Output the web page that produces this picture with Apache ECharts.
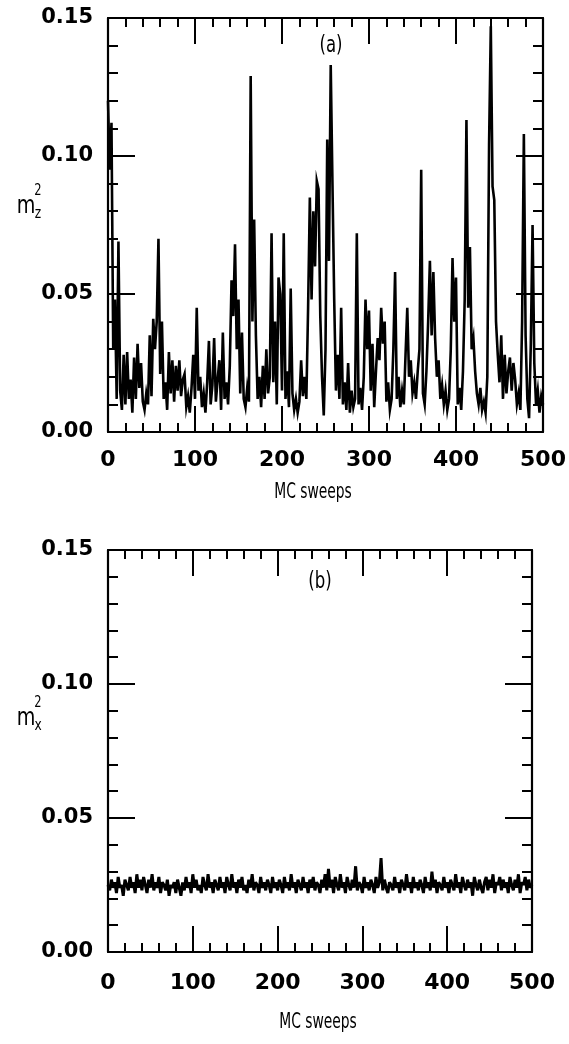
<!DOCTYPE html>
<html><head><meta charset="utf-8">
<script src="https://cdn.jsdelivr.net/npm/echarts@6/dist/echarts.min.js"></script>
<style>html,body{margin:0;padding:0;background:#fff}#c{width:569px;height:1044px}</style>
</head><body><div id="c"></div>
<script>
const xTickLabels = ['0','100','200','300','400','500'];
const yTickLabels = ['0.00','0.05','0.10','0.15'];
const sweepStep = 2;
// panel (a): m_z^2, one value every 2 MC sweeps (0..500)
const mz2 = [
0.120,0.095,0.112,0.030,0.048,0.012,0.069,0.015,0.008,0.028,
0.010,0.029,0.012,0.019,0.007,0.027,0.012,0.032,0.016,0.025,
0.011,0.008,0.014,0.010,0.035,0.013,0.041,0.030,0.040,0.070,
0.021,0.040,0.012,0.018,0.008,0.029,0.014,0.026,0.011,0.024,
0.015,0.026,0.013,0.019,0.021,0.009,0.013,0.007,0.016,0.028,
0.012,0.045,0.015,0.020,0.009,0.014,0.007,0.018,0.033,0.010,
0.017,0.034,0.011,0.019,0.026,0.008,0.036,0.012,0.018,0.010,
0.024,0.055,0.042,0.068,0.030,0.048,0.014,0.036,0.012,0.009,
0.016,0.011,0.129,0.040,0.077,0.035,0.012,0.020,0.009,0.024,
0.012,0.030,0.014,0.020,0.072,0.018,0.040,0.010,0.056,0.050,
0.015,0.072,0.012,0.022,0.009,0.052,0.014,0.008,0.012,0.007,
0.011,0.026,0.013,0.020,0.012,0.045,0.085,0.048,0.080,0.060,
0.091,0.088,0.042,0.020,0.006,0.030,0.106,0.062,0.133,0.090,
0.048,0.015,0.028,0.012,0.045,0.010,0.018,0.008,0.025,0.007,
0.015,0.009,0.012,0.072,0.010,0.016,0.008,0.020,0.048,0.030,
0.044,0.015,0.032,0.009,0.022,0.034,0.026,0.045,0.032,0.040,
0.011,0.018,0.008,0.012,0.030,0.058,0.012,0.020,0.009,0.015,
0.010,0.028,0.045,0.020,0.026,0.014,0.018,0.012,0.022,0.030,
0.095,0.014,0.010,0.022,0.040,0.062,0.035,0.058,0.034,0.020,
0.026,0.012,0.017,0.010,0.015,0.008,0.012,0.030,0.063,0.040,
0.056,0.010,0.016,0.008,0.022,0.048,0.113,0.045,0.067,0.030,
0.034,0.022,0.014,0.010,0.016,0.008,0.011,0.007,0.020,0.104,
0.147,0.089,0.084,0.040,0.028,0.018,0.035,0.012,0.028,0.014,
0.022,0.027,0.015,0.025,0.019,0.010,0.014,0.008,0.040,0.108,
0.035,0.012,0.005,0.032,0.075,0.025,0.010,0.015,0.007,0.013,
0.010
];
// panel (b): m_x^2, one value every 2 MC sweeps (0..500)
const mx2 = [
0.025,0.023,0.027,0.024,0.026,0.022,0.028,0.024,0.025,0.021,
0.027,0.025,0.023,0.028,0.024,0.026,0.022,0.029,0.024,0.027,
0.023,0.028,0.025,0.022,0.027,0.024,0.029,0.023,0.026,0.024,
0.028,0.022,0.026,0.025,0.023,0.027,0.021,0.025,0.024,0.026,
0.022,0.027,0.024,0.021,0.026,0.023,0.028,0.024,0.026,0.022,
0.029,0.024,0.027,0.023,0.025,0.022,0.028,0.025,0.023,0.029,
0.024,0.026,0.022,0.027,0.025,0.023,0.028,0.024,0.026,0.022,
0.028,0.025,0.023,0.029,0.024,0.026,0.022,0.027,0.024,0.028,
0.023,0.025,0.022,0.027,0.024,0.029,0.023,0.026,0.025,0.022,
0.028,0.024,0.026,0.023,0.027,0.025,0.022,0.028,0.024,0.026,
0.023,0.027,0.025,0.022,0.028,0.024,0.026,0.023,0.029,0.024,
0.026,0.022,0.027,0.025,0.023,0.028,0.024,0.026,0.022,0.027,
0.024,0.028,0.023,0.026,0.025,0.022,0.027,0.024,0.029,0.023,
0.031,0.024,0.027,0.022,0.028,0.025,0.023,0.029,0.024,0.026,
0.022,0.028,0.025,0.023,0.027,0.024,0.032,0.023,0.026,0.025,
0.022,0.028,0.024,0.026,0.023,0.027,0.025,0.022,0.028,0.024,
0.026,0.035,0.023,0.027,0.024,0.022,0.026,0.025,0.023,0.028,
0.024,0.026,0.022,0.027,0.025,0.023,0.029,0.024,0.026,0.022,
0.028,0.024,0.026,0.023,0.027,0.025,0.022,0.028,0.024,0.026,
0.023,0.030,0.024,0.027,0.022,0.026,0.025,0.023,0.028,0.024,
0.026,0.022,0.027,0.025,0.023,0.029,0.024,0.026,0.022,0.028,
0.025,0.023,0.027,0.024,0.026,0.021,0.028,0.025,0.023,0.027,
0.024,0.022,0.026,0.028,0.023,0.027,0.024,0.029,0.022,0.026,
0.025,0.028,0.023,0.027,0.024,0.026,0.022,0.028,0.025,0.023,
0.027,0.024,0.029,0.022,0.026,0.025,0.028,0.023,0.027,0.024,
0.025
];

const tickFontX = {fontFamily:'DejaVu Sans', fontWeight:'bold', fontSize:22, color:'#000'};
const tickFontY = {fontFamily:'DejaVu Sans', fontWeight:'bold', fontSize:21, color:'#000'};
const lineSty = {color:'#000', width:2.2};
const tickSty = {color:'#000', width:2};

function xAxis(gi, pos, showLabel, margin){
  return {type:'value', gridIndex:gi, position:pos, min:0, max:500, interval:100,
    axisLine:{show:true, onZero:false, lineStyle:lineSty},
    axisTick:{show:true, inside:true, length:26, lineStyle:tickSty},
    minorTick:{show:true, splitNumber:5, length:9, lineStyle:tickSty},
    splitLine:{show:false}, minorSplitLine:{show:false},
    axisLabel:{show:showLabel, margin:margin, showMinLabel:true, showMaxLabel:true, ...tickFontX,
      formatter:(v)=>xTickLabels[Math.round(v/100)]}
  };
}
function yAxis(gi, pos, showLabel){
  return {type:'value', gridIndex:gi, position:pos, min:0, max:0.15, interval:0.05,
    axisLine:{show:true, onZero:false, lineStyle:lineSty},
    axisTick:{show:true, inside:true, length:27, lineStyle:tickSty},
    minorTick:{show:true, splitNumber:5, length:10, lineStyle:tickSty},
    splitLine:{show:false}, minorSplitLine:{show:false},
    axisLabel:{show:showLabel, margin:15, showMinLabel:true, showMaxLabel:true, ...tickFontY,
      formatter:(v)=>yTickLabels[Math.round(v/0.05)]}
  };
}

const fam = '"DejaVu Sans Condensed", "DejaVu Sans", sans-serif';
function txt(t, x, y, size, sx){
  return {type:'text', x:x, y:y, scaleX:sx, scaleY:1,
    style:{text:t, font:size + 'px ' + fam, fill:'#000', align:'center', verticalAlign:'middle'}};
}

const chart = echarts.init(document.getElementById('c'), null, {renderer:'canvas'});
chart.setOption({
  animation:false,
  backgroundColor:'#fff',
  grid:[
    {left:108, top:18, width:435, height:414, outerBoundsMode:'none', containLabel:false},
    {left:108, top:550, width:424, height:402, outerBoundsMode:'none', containLabel:false}
  ],
  xAxis:[xAxis(0,'bottom',true,17), xAxis(0,'top',false,8), xAxis(1,'bottom',true,20), xAxis(1,'top',false,8)],
  yAxis:[yAxis(0,'left',true), yAxis(0,'right',false), yAxis(1,'left',true), yAxis(1,'right',false)],
  series:[
    {type:'line', xAxisIndex:0, yAxisIndex:0, showSymbol:false, symbol:'none',
     lineStyle:{color:'#000', width:2.6, join:'miter'}, data:mz2.map((v,i)=>[i*sweepStep, v])},
    {type:'line', xAxisIndex:2, yAxisIndex:2, showSymbol:false, symbol:'none',
     lineStyle:{color:'#000', width:3}, data:mx2.map((v,i)=>[i*sweepStep, v])}
  ],
  graphic:[
    txt('MC sweeps', 313, 492, 22, 0.7),
    txt('MC sweeps', 318, 1022, 22, 0.7),
    txt('(a)', 331, 46, 23, 0.8),
    txt('(b)', 320, 582, 23, 0.8),
    txt('m', 26, 206, 25, 0.85),
    txt('2', 38, 191, 15, 0.85),
    txt('z', 38, 214, 16, 0.85),
    txt('m', 26, 718, 25, 0.85),
    txt('2', 38, 703, 15, 0.85),
    txt('x', 38, 726, 16, 0.85)
  ]
});
</script>
</body></html>
